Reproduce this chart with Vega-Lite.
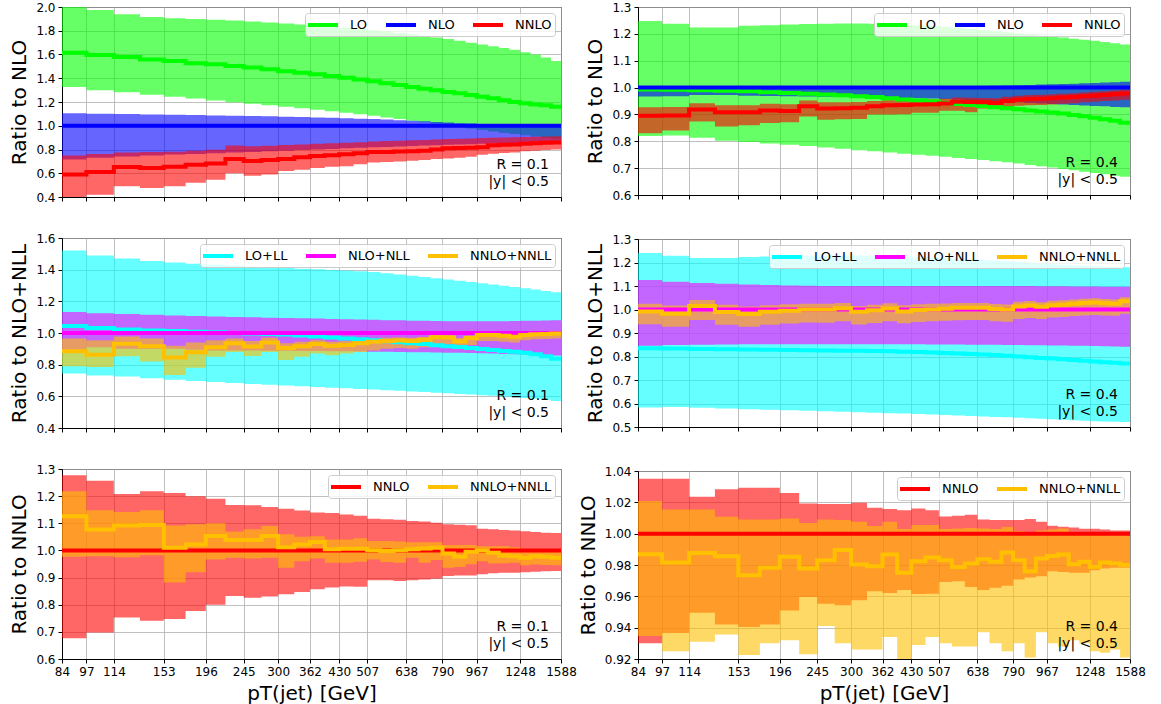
{
"$schema": "https://vega.github.io/schema/vega-lite/v6.json",
"padding": {"left": 9, "top": 0, "right": 0, "bottom": 0},
"background": "white",
"datasets": {
"bins": [{"b":0,"x0":84,"x1":97},{"b":1,"x0":97,"x1":114},{"b":2,"x0":114,"x1":133},{"b":3,"x0":133,"x1":153},{"b":4,"x0":153,"x1":174},{"b":5,"x0":174,"x1":196},{"b":6,"x0":196,"x1":220},{"b":7,"x0":220,"x1":245},{"b":8,"x0":245,"x1":272},{"b":9,"x0":272,"x1":300},{"b":10,"x0":300,"x1":330},{"b":11,"x0":330,"x1":362},{"b":12,"x0":362,"x1":395},{"b":13,"x0":395,"x1":430},{"b":14,"x0":430,"x1":468},{"b":15,"x0":468,"x1":507},{"b":16,"x0":507,"x1":548},{"b":17,"x0":548,"x1":592},{"b":18,"x0":592,"x1":638},{"b":19,"x0":638,"x1":686},{"b":20,"x0":686,"x1":737},{"b":21,"x0":737,"x1":790},{"b":22,"x0":790,"x1":846},{"b":23,"x0":846,"x1":905},{"b":24,"x0":905,"x1":967},{"b":25,"x0":967,"x1":1032},{"b":26,"x0":1032,"x1":1101},{"b":27,"x0":1101,"x1":1172},{"b":28,"x0":1172,"x1":1248},{"b":29,"x0":1248,"x1":1327},{"b":30,"x0":1327,"x1":1410},{"b":31,"x0":1410,"x1":1497},{"b":32,"x0":1497,"x1":1588}],
"d": [
{"p":"TL","s":"LO","b":0,"c":1.615,"lo":1.326,"hi":2.0},
{"p":"TL","s":"LO","b":1,"c":1.596,"lo":1.3,"hi":1.975},
{"p":"TL","s":"LO","b":2,"c":1.579,"lo":1.282,"hi":1.94},
{"p":"TL","s":"LO","b":3,"c":1.557,"lo":1.262,"hi":1.915},
{"p":"TL","s":"LO","b":4,"c":1.545,"lo":1.245,"hi":1.905},
{"p":"TL","s":"LO","b":5,"c":1.526,"lo":1.23,"hi":1.9},
{"p":"TL","s":"LO","b":6,"c":1.517,"lo":1.213,"hi":1.893},
{"p":"TL","s":"LO","b":7,"c":1.503,"lo":1.198,"hi":1.886},
{"p":"TL","s":"LO","b":8,"c":1.49,"lo":1.185,"hi":1.878},
{"p":"TL","s":"LO","b":9,"c":1.475,"lo":1.172,"hi":1.87},
{"p":"TL","s":"LO","b":10,"c":1.46,"lo":1.16,"hi":1.862},
{"p":"TL","s":"LO","b":11,"c":1.447,"lo":1.148,"hi":1.853},
{"p":"TL","s":"LO","b":12,"c":1.433,"lo":1.135,"hi":1.845},
{"p":"TL","s":"LO","b":13,"c":1.419,"lo":1.122,"hi":1.835},
{"p":"TL","s":"LO","b":14,"c":1.405,"lo":1.11,"hi":1.825},
{"p":"TL","s":"LO","b":15,"c":1.39,"lo":1.097,"hi":1.815},
{"p":"TL","s":"LO","b":16,"c":1.374,"lo":1.084,"hi":1.805},
{"p":"TL","s":"LO","b":17,"c":1.357,"lo":1.07,"hi":1.793},
{"p":"TL","s":"LO","b":18,"c":1.343,"lo":1.057,"hi":1.782},
{"p":"TL","s":"LO","b":19,"c":1.326,"lo":1.043,"hi":1.77},
{"p":"TL","s":"LO","b":20,"c":1.312,"lo":1.03,"hi":1.757},
{"p":"TL","s":"LO","b":21,"c":1.298,"lo":1.017,"hi":1.743},
{"p":"TL","s":"LO","b":22,"c":1.284,"lo":1.003,"hi":1.73},
{"p":"TL","s":"LO","b":23,"c":1.273,"lo":0.99,"hi":1.715},
{"p":"TL","s":"LO","b":24,"c":1.259,"lo":0.977,"hi":1.7},
{"p":"TL","s":"LO","b":25,"c":1.245,"lo":0.964,"hi":1.685},
{"p":"TL","s":"LO","b":26,"c":1.231,"lo":0.951,"hi":1.67},
{"p":"TL","s":"LO","b":27,"c":1.214,"lo":0.94,"hi":1.655},
{"p":"TL","s":"LO","b":28,"c":1.2,"lo":0.93,"hi":1.64},
{"p":"TL","s":"LO","b":29,"c":1.189,"lo":0.92,"hi":1.62},
{"p":"TL","s":"LO","b":30,"c":1.18,"lo":0.91,"hi":1.6},
{"p":"TL","s":"LO","b":31,"c":1.172,"lo":0.9,"hi":1.575},
{"p":"TL","s":"LO","b":32,"c":1.161,"lo":0.89,"hi":1.545},
{"p":"TL","s":"NLO","b":0,"c":1,"lo":0.716,"hi":1.105},
{"p":"TL","s":"NLO","b":1,"c":1,"lo":0.73,"hi":1.102},
{"p":"TL","s":"NLO","b":2,"c":1,"lo":0.742,"hi":1.098},
{"p":"TL","s":"NLO","b":3,"c":1,"lo":0.75,"hi":1.095},
{"p":"TL","s":"NLO","b":4,"c":1,"lo":0.757,"hi":1.092},
{"p":"TL","s":"NLO","b":5,"c":1,"lo":0.763,"hi":1.09},
{"p":"TL","s":"NLO","b":6,"c":1,"lo":0.769,"hi":1.087},
{"p":"TL","s":"NLO","b":7,"c":1,"lo":0.775,"hi":1.085},
{"p":"TL","s":"NLO","b":8,"c":1,"lo":0.78,"hi":1.082},
{"p":"TL","s":"NLO","b":9,"c":1,"lo":0.785,"hi":1.079},
{"p":"TL","s":"NLO","b":10,"c":1,"lo":0.79,"hi":1.076},
{"p":"TL","s":"NLO","b":11,"c":1,"lo":0.795,"hi":1.073},
{"p":"TL","s":"NLO","b":12,"c":1,"lo":0.8,"hi":1.07},
{"p":"TL","s":"NLO","b":13,"c":1,"lo":0.805,"hi":1.067},
{"p":"TL","s":"NLO","b":14,"c":1,"lo":0.81,"hi":1.064},
{"p":"TL","s":"NLO","b":15,"c":1,"lo":0.814,"hi":1.06},
{"p":"TL","s":"NLO","b":16,"c":1,"lo":0.818,"hi":1.056},
{"p":"TL","s":"NLO","b":17,"c":1,"lo":0.822,"hi":1.052},
{"p":"TL","s":"NLO","b":18,"c":1,"lo":0.826,"hi":1.047},
{"p":"TL","s":"NLO","b":19,"c":1,"lo":0.83,"hi":1.042},
{"p":"TL","s":"NLO","b":20,"c":1,"lo":0.833,"hi":1.037},
{"p":"TL","s":"NLO","b":21,"c":1,"lo":0.836,"hi":1.032},
{"p":"TL","s":"NLO","b":22,"c":1,"lo":0.839,"hi":1.027},
{"p":"TL","s":"NLO","b":23,"c":1,"lo":0.842,"hi":1.022},
{"p":"TL","s":"NLO","b":24,"c":1,"lo":0.845,"hi":1.018},
{"p":"TL","s":"NLO","b":25,"c":1,"lo":0.848,"hi":1.014},
{"p":"TL","s":"NLO","b":26,"c":1,"lo":0.85,"hi":1.011},
{"p":"TL","s":"NLO","b":27,"c":1,"lo":0.853,"hi":1.008},
{"p":"TL","s":"NLO","b":28,"c":1,"lo":0.855,"hi":1.006},
{"p":"TL","s":"NLO","b":29,"c":1,"lo":0.857,"hi":1.004},
{"p":"TL","s":"NLO","b":30,"c":1,"lo":0.86,"hi":1.003},
{"p":"TL","s":"NLO","b":31,"c":1,"lo":0.862,"hi":1.002},
{"p":"TL","s":"NLO","b":32,"c":1,"lo":0.864,"hi":1.001},
{"p":"TL","s":"NNLO","b":0,"c":0.59,"lo":0.4,"hi":0.75},
{"p":"TL","s":"NNLO","b":1,"c":0.61,"lo":0.42,"hi":0.762},
{"p":"TL","s":"NNLO","b":2,"c":0.652,"lo":0.49,"hi":0.775},
{"p":"TL","s":"NNLO","b":3,"c":0.645,"lo":0.475,"hi":0.778},
{"p":"TL","s":"NNLO","b":4,"c":0.655,"lo":0.49,"hi":0.782},
{"p":"TL","s":"NNLO","b":5,"c":0.672,"lo":0.52,"hi":0.79},
{"p":"TL","s":"NNLO","b":6,"c":0.683,"lo":0.545,"hi":0.798},
{"p":"TL","s":"NNLO","b":7,"c":0.72,"lo":0.6,"hi":0.833},
{"p":"TL","s":"NNLO","b":8,"c":0.703,"lo":0.578,"hi":0.828},
{"p":"TL","s":"NNLO","b":9,"c":0.712,"lo":0.59,"hi":0.832},
{"p":"TL","s":"NNLO","b":10,"c":0.72,"lo":0.62,"hi":0.838},
{"p":"TL","s":"NNLO","b":11,"c":0.735,"lo":0.63,"hi":0.842},
{"p":"TL","s":"NNLO","b":12,"c":0.745,"lo":0.645,"hi":0.848},
{"p":"TL","s":"NNLO","b":13,"c":0.752,"lo":0.655,"hi":0.852},
{"p":"TL","s":"NNLO","b":14,"c":0.76,"lo":0.66,"hi":0.857},
{"p":"TL","s":"NNLO","b":15,"c":0.768,"lo":0.675,"hi":0.862},
{"p":"TL","s":"NNLO","b":16,"c":0.778,"lo":0.69,"hi":0.868},
{"p":"TL","s":"NNLO","b":17,"c":0.78,"lo":0.695,"hi":0.871},
{"p":"TL","s":"NNLO","b":18,"c":0.783,"lo":0.7,"hi":0.874},
{"p":"TL","s":"NNLO","b":19,"c":0.785,"lo":0.705,"hi":0.877},
{"p":"TL","s":"NNLO","b":20,"c":0.79,"lo":0.712,"hi":0.88},
{"p":"TL","s":"NNLO","b":21,"c":0.8,"lo":0.72,"hi":0.885},
{"p":"TL","s":"NNLO","b":22,"c":0.81,"lo":0.725,"hi":0.888},
{"p":"TL","s":"NNLO","b":23,"c":0.812,"lo":0.73,"hi":0.89},
{"p":"TL","s":"NNLO","b":24,"c":0.815,"lo":0.74,"hi":0.893},
{"p":"TL","s":"NNLO","b":25,"c":0.82,"lo":0.755,"hi":0.896},
{"p":"TL","s":"NNLO","b":26,"c":0.835,"lo":0.765,"hi":0.9},
{"p":"TL","s":"NNLO","b":27,"c":0.84,"lo":0.77,"hi":0.902},
{"p":"TL","s":"NNLO","b":28,"c":0.842,"lo":0.775,"hi":0.904},
{"p":"TL","s":"NNLO","b":29,"c":0.848,"lo":0.785,"hi":0.906},
{"p":"TL","s":"NNLO","b":30,"c":0.852,"lo":0.79,"hi":0.908},
{"p":"TL","s":"NNLO","b":31,"c":0.856,"lo":0.795,"hi":0.91},
{"p":"TL","s":"NNLO","b":32,"c":0.86,"lo":0.8,"hi":0.912},
{"p":"TR","s":"LO","b":0,"c":0.993,"lo":0.82,"hi":1.248},
{"p":"TR","s":"LO","b":1,"c":0.992,"lo":0.822,"hi":1.238},
{"p":"TR","s":"LO","b":2,"c":0.99,"lo":0.813,"hi":1.224},
{"p":"TR","s":"LO","b":3,"c":0.988,"lo":0.802,"hi":1.224},
{"p":"TR","s":"LO","b":4,"c":0.986,"lo":0.797,"hi":1.23},
{"p":"TR","s":"LO","b":5,"c":0.983,"lo":0.792,"hi":1.232},
{"p":"TR","s":"LO","b":6,"c":0.98,"lo":0.787,"hi":1.235},
{"p":"TR","s":"LO","b":7,"c":0.977,"lo":0.782,"hi":1.237},
{"p":"TR","s":"LO","b":8,"c":0.974,"lo":0.777,"hi":1.238},
{"p":"TR","s":"LO","b":9,"c":0.971,"lo":0.772,"hi":1.239},
{"p":"TR","s":"LO","b":10,"c":0.968,"lo":0.767,"hi":1.239},
{"p":"TR","s":"LO","b":11,"c":0.965,"lo":0.763,"hi":1.238},
{"p":"TR","s":"LO","b":12,"c":0.96,"lo":0.758,"hi":1.236},
{"p":"TR","s":"LO","b":13,"c":0.956,"lo":0.754,"hi":1.234},
{"p":"TR","s":"LO","b":14,"c":0.952,"lo":0.75,"hi":1.232},
{"p":"TR","s":"LO","b":15,"c":0.948,"lo":0.746,"hi":1.229},
{"p":"TR","s":"LO","b":16,"c":0.943,"lo":0.742,"hi":1.226},
{"p":"TR","s":"LO","b":17,"c":0.939,"lo":0.738,"hi":1.222},
{"p":"TR","s":"LO","b":18,"c":0.935,"lo":0.734,"hi":1.218},
{"p":"TR","s":"LO","b":19,"c":0.931,"lo":0.73,"hi":1.214},
{"p":"TR","s":"LO","b":20,"c":0.927,"lo":0.726,"hi":1.21},
{"p":"TR","s":"LO","b":21,"c":0.923,"lo":0.722,"hi":1.206},
{"p":"TR","s":"LO","b":22,"c":0.919,"lo":0.717,"hi":1.202},
{"p":"TR","s":"LO","b":23,"c":0.915,"lo":0.712,"hi":1.198},
{"p":"TR","s":"LO","b":24,"c":0.911,"lo":0.707,"hi":1.194},
{"p":"TR","s":"LO","b":25,"c":0.907,"lo":0.702,"hi":1.19},
{"p":"TR","s":"LO","b":26,"c":0.903,"lo":0.697,"hi":1.186},
{"p":"TR","s":"LO","b":27,"c":0.898,"lo":0.692,"hi":1.182},
{"p":"TR","s":"LO","b":28,"c":0.893,"lo":0.687,"hi":1.178},
{"p":"TR","s":"LO","b":29,"c":0.888,"lo":0.682,"hi":1.174},
{"p":"TR","s":"LO","b":30,"c":0.882,"lo":0.677,"hi":1.17},
{"p":"TR","s":"LO","b":31,"c":0.876,"lo":0.672,"hi":1.165},
{"p":"TR","s":"LO","b":32,"c":0.869,"lo":0.668,"hi":1.16},
{"p":"TR","s":"NLO","b":0,"c":1,"lo":0.967,"hi":1.001},
{"p":"TR","s":"NLO","b":1,"c":1,"lo":0.968,"hi":1.001},
{"p":"TR","s":"NLO","b":2,"c":1,"lo":0.972,"hi":1.001},
{"p":"TR","s":"NLO","b":3,"c":1,"lo":0.972,"hi":1.001},
{"p":"TR","s":"NLO","b":4,"c":1,"lo":0.97,"hi":1.001},
{"p":"TR","s":"NLO","b":5,"c":1,"lo":0.969,"hi":1.001},
{"p":"TR","s":"NLO","b":6,"c":1,"lo":0.968,"hi":1.001},
{"p":"TR","s":"NLO","b":7,"c":1,"lo":0.967,"hi":1.001},
{"p":"TR","s":"NLO","b":8,"c":1,"lo":0.966,"hi":1.001},
{"p":"TR","s":"NLO","b":9,"c":1,"lo":0.965,"hi":1.001},
{"p":"TR","s":"NLO","b":10,"c":1,"lo":0.964,"hi":1.001},
{"p":"TR","s":"NLO","b":11,"c":1,"lo":0.963,"hi":1.001},
{"p":"TR","s":"NLO","b":12,"c":1,"lo":0.962,"hi":1.001},
{"p":"TR","s":"NLO","b":13,"c":1,"lo":0.961,"hi":1.001},
{"p":"TR","s":"NLO","b":14,"c":1,"lo":0.96,"hi":1.001},
{"p":"TR","s":"NLO","b":15,"c":1,"lo":0.959,"hi":1.002},
{"p":"TR","s":"NLO","b":16,"c":1,"lo":0.957,"hi":1.003},
{"p":"TR","s":"NLO","b":17,"c":1,"lo":0.955,"hi":1.004},
{"p":"TR","s":"NLO","b":18,"c":1,"lo":0.953,"hi":1.005},
{"p":"TR","s":"NLO","b":19,"c":1,"lo":0.951,"hi":1.006},
{"p":"TR","s":"NLO","b":20,"c":1,"lo":0.949,"hi":1.007},
{"p":"TR","s":"NLO","b":21,"c":1,"lo":0.947,"hi":1.008},
{"p":"TR","s":"NLO","b":22,"c":1,"lo":0.945,"hi":1.009},
{"p":"TR","s":"NLO","b":23,"c":1,"lo":0.943,"hi":1.01},
{"p":"TR","s":"NLO","b":24,"c":1,"lo":0.941,"hi":1.011},
{"p":"TR","s":"NLO","b":25,"c":1,"lo":0.939,"hi":1.012},
{"p":"TR","s":"NLO","b":26,"c":1,"lo":0.937,"hi":1.013},
{"p":"TR","s":"NLO","b":27,"c":1,"lo":0.935,"hi":1.014},
{"p":"TR","s":"NLO","b":28,"c":1,"lo":0.933,"hi":1.016},
{"p":"TR","s":"NLO","b":29,"c":1,"lo":0.931,"hi":1.017},
{"p":"TR","s":"NLO","b":30,"c":1,"lo":0.93,"hi":1.019},
{"p":"TR","s":"NLO","b":31,"c":1,"lo":0.928,"hi":1.02},
{"p":"TR","s":"NLO","b":32,"c":1,"lo":0.927,"hi":1.022},
{"p":"TR","s":"NNLO","b":0,"c":0.895,"lo":0.83,"hi":0.927},
{"p":"TR","s":"NNLO","b":1,"c":0.896,"lo":0.84,"hi":0.928},
{"p":"TR","s":"NNLO","b":2,"c":0.918,"lo":0.874,"hi":0.942},
{"p":"TR","s":"NNLO","b":3,"c":0.908,"lo":0.855,"hi":0.934},
{"p":"TR","s":"NNLO","b":4,"c":0.908,"lo":0.86,"hi":0.934},
{"p":"TR","s":"NNLO","b":5,"c":0.915,"lo":0.868,"hi":0.94},
{"p":"TR","s":"NNLO","b":6,"c":0.913,"lo":0.871,"hi":0.938},
{"p":"TR","s":"NNLO","b":7,"c":0.93,"lo":0.892,"hi":0.952},
{"p":"TR","s":"NNLO","b":8,"c":0.922,"lo":0.88,"hi":0.945},
{"p":"TR","s":"NNLO","b":9,"c":0.923,"lo":0.882,"hi":0.945},
{"p":"TR","s":"NNLO","b":10,"c":0.925,"lo":0.883,"hi":0.946},
{"p":"TR","s":"NNLO","b":11,"c":0.93,"lo":0.9,"hi":0.95},
{"p":"TR","s":"NNLO","b":12,"c":0.934,"lo":0.9,"hi":0.953},
{"p":"TR","s":"NNLO","b":13,"c":0.935,"lo":0.901,"hi":0.954},
{"p":"TR","s":"NNLO","b":14,"c":0.937,"lo":0.906,"hi":0.955},
{"p":"TR","s":"NNLO","b":15,"c":0.938,"lo":0.906,"hi":0.956},
{"p":"TR","s":"NNLO","b":16,"c":0.941,"lo":0.914,"hi":0.958},
{"p":"TR","s":"NNLO","b":17,"c":0.947,"lo":0.914,"hi":0.963},
{"p":"TR","s":"NNLO","b":18,"c":0.946,"lo":0.908,"hi":0.962},
{"p":"TR","s":"NNLO","b":19,"c":0.945,"lo":0.922,"hi":0.961},
{"p":"TR","s":"NNLO","b":20,"c":0.943,"lo":0.92,"hi":0.96},
{"p":"TR","s":"NNLO","b":21,"c":0.95,"lo":0.928,"hi":0.966},
{"p":"TR","s":"NNLO","b":22,"c":0.955,"lo":0.932,"hi":0.97},
{"p":"TR","s":"NNLO","b":23,"c":0.957,"lo":0.934,"hi":0.972},
{"p":"TR","s":"NNLO","b":24,"c":0.958,"lo":0.935,"hi":0.973},
{"p":"TR","s":"NNLO","b":25,"c":0.96,"lo":0.937,"hi":0.975},
{"p":"TR","s":"NNLO","b":26,"c":0.963,"lo":0.94,"hi":0.977},
{"p":"TR","s":"NNLO","b":27,"c":0.965,"lo":0.942,"hi":0.979},
{"p":"TR","s":"NNLO","b":28,"c":0.968,"lo":0.945,"hi":0.982},
{"p":"TR","s":"NNLO","b":29,"c":0.97,"lo":0.947,"hi":0.984},
{"p":"TR","s":"NNLO","b":30,"c":0.972,"lo":0.95,"hi":0.986},
{"p":"TR","s":"NNLO","b":31,"c":0.975,"lo":0.952,"hi":0.989},
{"p":"TR","s":"NNLO","b":32,"c":0.978,"lo":0.955,"hi":0.992},
{"p":"ML","s":"LO+LL","b":0,"c":1.045,"lo":0.744,"hi":1.521},
{"p":"ML","s":"LO+LL","b":1,"c":1.032,"lo":0.732,"hi":1.49},
{"p":"ML","s":"LO+LL","b":2,"c":1.022,"lo":0.725,"hi":1.47},
{"p":"ML","s":"LO+LL","b":3,"c":1.016,"lo":0.715,"hi":1.455},
{"p":"ML","s":"LO+LL","b":4,"c":1.012,"lo":0.705,"hi":1.445},
{"p":"ML","s":"LO+LL","b":5,"c":1.008,"lo":0.697,"hi":1.438},
{"p":"ML","s":"LO+LL","b":6,"c":1.004,"lo":0.69,"hi":1.432},
{"p":"ML","s":"LO+LL","b":7,"c":1.0,"lo":0.684,"hi":1.426},
{"p":"ML","s":"LO+LL","b":8,"c":0.997,"lo":0.678,"hi":1.42},
{"p":"ML","s":"LO+LL","b":9,"c":0.994,"lo":0.673,"hi":1.415},
{"p":"ML","s":"LO+LL","b":10,"c":0.99,"lo":0.668,"hi":1.41},
{"p":"ML","s":"LO+LL","b":11,"c":0.985,"lo":0.663,"hi":1.406},
{"p":"ML","s":"LO+LL","b":12,"c":0.978,"lo":0.659,"hi":1.402},
{"p":"ML","s":"LO+LL","b":13,"c":0.972,"lo":0.655,"hi":1.398},
{"p":"ML","s":"LO+LL","b":14,"c":0.965,"lo":0.651,"hi":1.394},
{"p":"ML","s":"LO+LL","b":15,"c":0.96,"lo":0.647,"hi":1.39},
{"p":"ML","s":"LO+LL","b":16,"c":0.955,"lo":0.643,"hi":1.385},
{"p":"ML","s":"LO+LL","b":17,"c":0.948,"lo":0.639,"hi":1.378},
{"p":"ML","s":"LO+LL","b":18,"c":0.942,"lo":0.635,"hi":1.37},
{"p":"ML","s":"LO+LL","b":19,"c":0.936,"lo":0.631,"hi":1.362},
{"p":"ML","s":"LO+LL","b":20,"c":0.93,"lo":0.627,"hi":1.354},
{"p":"ML","s":"LO+LL","b":21,"c":0.923,"lo":0.623,"hi":1.346},
{"p":"ML","s":"LO+LL","b":22,"c":0.917,"lo":0.619,"hi":1.338},
{"p":"ML","s":"LO+LL","b":23,"c":0.911,"lo":0.615,"hi":1.33},
{"p":"ML","s":"LO+LL","b":24,"c":0.905,"lo":0.611,"hi":1.322},
{"p":"ML","s":"LO+LL","b":25,"c":0.899,"lo":0.607,"hi":1.314},
{"p":"ML","s":"LO+LL","b":26,"c":0.893,"lo":0.603,"hi":1.306},
{"p":"ML","s":"LO+LL","b":27,"c":0.887,"lo":0.599,"hi":1.298},
{"p":"ML","s":"LO+LL","b":28,"c":0.881,"lo":0.595,"hi":1.29},
{"p":"ML","s":"LO+LL","b":29,"c":0.875,"lo":0.59,"hi":1.282},
{"p":"ML","s":"LO+LL","b":30,"c":0.866,"lo":0.585,"hi":1.274},
{"p":"ML","s":"LO+LL","b":31,"c":0.853,"lo":0.578,"hi":1.266},
{"p":"ML","s":"LO+LL","b":32,"c":0.838,"lo":0.57,"hi":1.258},
{"p":"ML","s":"NLO+NLL","b":0,"c":1,"lo":0.895,"hi":1.133},
{"p":"ML","s":"NLO+NLL","b":1,"c":1,"lo":0.91,"hi":1.124},
{"p":"ML","s":"NLO+NLL","b":2,"c":1,"lo":0.9,"hi":1.12},
{"p":"ML","s":"NLO+NLL","b":3,"c":1,"lo":0.9,"hi":1.115},
{"p":"ML","s":"NLO+NLL","b":4,"c":1,"lo":0.9,"hi":1.11},
{"p":"ML","s":"NLO+NLL","b":5,"c":1,"lo":0.895,"hi":1.107},
{"p":"ML","s":"NLO+NLL","b":6,"c":1,"lo":0.89,"hi":1.104},
{"p":"ML","s":"NLO+NLL","b":7,"c":1,"lo":0.89,"hi":1.101},
{"p":"ML","s":"NLO+NLL","b":8,"c":1,"lo":0.89,"hi":1.099},
{"p":"ML","s":"NLO+NLL","b":9,"c":1,"lo":0.888,"hi":1.097},
{"p":"ML","s":"NLO+NLL","b":10,"c":1,"lo":0.888,"hi":1.095},
{"p":"ML","s":"NLO+NLL","b":11,"c":1,"lo":0.887,"hi":1.093},
{"p":"ML","s":"NLO+NLL","b":12,"c":1,"lo":0.886,"hi":1.091},
{"p":"ML","s":"NLO+NLL","b":13,"c":1,"lo":0.885,"hi":1.089},
{"p":"ML","s":"NLO+NLL","b":14,"c":1,"lo":0.884,"hi":1.087},
{"p":"ML","s":"NLO+NLL","b":15,"c":1,"lo":0.883,"hi":1.085},
{"p":"ML","s":"NLO+NLL","b":16,"c":1,"lo":0.882,"hi":1.083},
{"p":"ML","s":"NLO+NLL","b":17,"c":1,"lo":0.881,"hi":1.081},
{"p":"ML","s":"NLO+NLL","b":18,"c":1,"lo":0.88,"hi":1.08},
{"p":"ML","s":"NLO+NLL","b":19,"c":1,"lo":0.879,"hi":1.078},
{"p":"ML","s":"NLO+NLL","b":20,"c":1,"lo":0.878,"hi":1.077},
{"p":"ML","s":"NLO+NLL","b":21,"c":1,"lo":0.877,"hi":1.076},
{"p":"ML","s":"NLO+NLL","b":22,"c":1,"lo":0.876,"hi":1.075},
{"p":"ML","s":"NLO+NLL","b":23,"c":1,"lo":0.875,"hi":1.074},
{"p":"ML","s":"NLO+NLL","b":24,"c":1,"lo":0.874,"hi":1.074},
{"p":"ML","s":"NLO+NLL","b":25,"c":1,"lo":0.872,"hi":1.074},
{"p":"ML","s":"NLO+NLL","b":26,"c":1,"lo":0.87,"hi":1.075},
{"p":"ML","s":"NLO+NLL","b":27,"c":1,"lo":0.868,"hi":1.075},
{"p":"ML","s":"NLO+NLL","b":28,"c":1,"lo":0.866,"hi":1.076},
{"p":"ML","s":"NLO+NLL","b":29,"c":1,"lo":0.864,"hi":1.077},
{"p":"ML","s":"NLO+NLL","b":30,"c":1,"lo":0.862,"hi":1.078},
{"p":"ML","s":"NLO+NLL","b":31,"c":1,"lo":0.86,"hi":1.079},
{"p":"ML","s":"NLO+NLL","b":32,"c":1,"lo":0.858,"hi":1.08},
{"p":"ML","s":"NNLO+NNLL","b":0,"c":0.884,"lo":0.79,"hi":0.965},
{"p":"ML","s":"NNLO+NNLL","b":1,"c":0.862,"lo":0.785,"hi":0.955},
{"p":"ML","s":"NNLO+NNLL","b":2,"c":0.932,"lo":0.853,"hi":0.978},
{"p":"ML","s":"NNLO+NNLL","b":3,"c":0.916,"lo":0.82,"hi":0.965},
{"p":"ML","s":"NNLO+NNLL","b":4,"c":0.845,"lo":0.735,"hi":0.92},
{"p":"ML","s":"NNLO+NNLL","b":5,"c":0.878,"lo":0.78,"hi":0.94},
{"p":"ML","s":"NNLO+NNLL","b":6,"c":0.91,"lo":0.85,"hi":0.955},
{"p":"ML","s":"NNLO+NNLL","b":7,"c":0.935,"lo":0.88,"hi":0.965},
{"p":"ML","s":"NNLO+NNLL","b":8,"c":0.915,"lo":0.855,"hi":0.95},
{"p":"ML","s":"NNLO+NNLL","b":9,"c":0.94,"lo":0.88,"hi":0.97},
{"p":"ML","s":"NNLO+NNLL","b":10,"c":0.905,"lo":0.83,"hi":0.935},
{"p":"ML","s":"NNLO+NNLL","b":11,"c":0.916,"lo":0.85,"hi":0.945},
{"p":"ML","s":"NNLO+NNLL","b":12,"c":0.93,"lo":0.87,"hi":0.955},
{"p":"ML","s":"NNLO+NNLL","b":13,"c":0.92,"lo":0.86,"hi":0.945},
{"p":"ML","s":"NNLO+NNLL","b":14,"c":0.925,"lo":0.87,"hi":0.95},
{"p":"ML","s":"NNLO+NNLL","b":15,"c":0.935,"lo":0.88,"hi":0.96},
{"p":"ML","s":"NNLO+NNLL","b":16,"c":0.945,"lo":0.89,"hi":0.965},
{"p":"ML","s":"NNLO+NNLL","b":17,"c":0.95,"lo":0.9,"hi":0.97},
{"p":"ML","s":"NNLO+NNLL","b":18,"c":0.952,"lo":0.905,"hi":0.972},
{"p":"ML","s":"NNLO+NNLL","b":19,"c":0.95,"lo":0.9,"hi":0.97},
{"p":"ML","s":"NNLO+NNLL","b":20,"c":0.957,"lo":0.91,"hi":0.975},
{"p":"ML","s":"NNLO+NNLL","b":21,"c":0.973,"lo":0.93,"hi":0.99},
{"p":"ML","s":"NNLO+NNLL","b":22,"c":0.972,"lo":0.93,"hi":0.99},
{"p":"ML","s":"NNLO+NNLL","b":23,"c":0.947,"lo":0.9,"hi":0.968},
{"p":"ML","s":"NNLO+NNLL","b":24,"c":0.968,"lo":0.925,"hi":0.985},
{"p":"ML","s":"NNLO+NNLL","b":25,"c":0.988,"lo":0.95,"hi":1.003},
{"p":"ML","s":"NNLO+NNLL","b":26,"c":0.988,"lo":0.95,"hi":1.003},
{"p":"ML","s":"NNLO+NNLL","b":27,"c":0.983,"lo":0.945,"hi":0.998},
{"p":"ML","s":"NNLO+NNLL","b":28,"c":0.977,"lo":0.94,"hi":0.992},
{"p":"ML","s":"NNLO+NNLL","b":29,"c":0.988,"lo":0.955,"hi":1.002},
{"p":"ML","s":"NNLO+NNLL","b":30,"c":0.992,"lo":0.96,"hi":1.006},
{"p":"ML","s":"NNLO+NNLL","b":31,"c":0.993,"lo":0.962,"hi":1.007},
{"p":"ML","s":"NNLO+NNLL","b":32,"c":0.997,"lo":0.965,"hi":1.01},
{"p":"MR","s":"LO+LL","b":0,"c":0.835,"lo":0.583,"hi":1.24},
{"p":"MR","s":"LO+LL","b":1,"c":0.834,"lo":0.585,"hi":1.229},
{"p":"MR","s":"LO+LL","b":2,"c":0.832,"lo":0.582,"hi":1.219},
{"p":"MR","s":"LO+LL","b":3,"c":0.831,"lo":0.579,"hi":1.219},
{"p":"MR","s":"LO+LL","b":4,"c":0.83,"lo":0.576,"hi":1.223},
{"p":"MR","s":"LO+LL","b":5,"c":0.829,"lo":0.573,"hi":1.226},
{"p":"MR","s":"LO+LL","b":6,"c":0.828,"lo":0.571,"hi":1.228},
{"p":"MR","s":"LO+LL","b":7,"c":0.827,"lo":0.569,"hi":1.229},
{"p":"MR","s":"LO+LL","b":8,"c":0.826,"lo":0.567,"hi":1.23},
{"p":"MR","s":"LO+LL","b":9,"c":0.825,"lo":0.565,"hi":1.23},
{"p":"MR","s":"LO+LL","b":10,"c":0.824,"lo":0.563,"hi":1.23},
{"p":"MR","s":"LO+LL","b":11,"c":0.823,"lo":0.561,"hi":1.229},
{"p":"MR","s":"LO+LL","b":12,"c":0.822,"lo":0.559,"hi":1.228},
{"p":"MR","s":"LO+LL","b":13,"c":0.82,"lo":0.557,"hi":1.226},
{"p":"MR","s":"LO+LL","b":14,"c":0.819,"lo":0.555,"hi":1.224},
{"p":"MR","s":"LO+LL","b":15,"c":0.817,"lo":0.553,"hi":1.222},
{"p":"MR","s":"LO+LL","b":16,"c":0.815,"lo":0.551,"hi":1.22},
{"p":"MR","s":"LO+LL","b":17,"c":0.813,"lo":0.549,"hi":1.217},
{"p":"MR","s":"LO+LL","b":18,"c":0.811,"lo":0.547,"hi":1.214},
{"p":"MR","s":"LO+LL","b":19,"c":0.809,"lo":0.545,"hi":1.211},
{"p":"MR","s":"LO+LL","b":20,"c":0.806,"lo":0.543,"hi":1.208},
{"p":"MR","s":"LO+LL","b":21,"c":0.803,"lo":0.541,"hi":1.205},
{"p":"MR","s":"LO+LL","b":22,"c":0.8,"lo":0.539,"hi":1.202},
{"p":"MR","s":"LO+LL","b":23,"c":0.797,"lo":0.537,"hi":1.199},
{"p":"MR","s":"LO+LL","b":24,"c":0.794,"lo":0.535,"hi":1.196},
{"p":"MR","s":"LO+LL","b":25,"c":0.791,"lo":0.533,"hi":1.193},
{"p":"MR","s":"LO+LL","b":26,"c":0.788,"lo":0.531,"hi":1.19},
{"p":"MR","s":"LO+LL","b":27,"c":0.785,"lo":0.529,"hi":1.188},
{"p":"MR","s":"LO+LL","b":28,"c":0.782,"lo":0.527,"hi":1.186},
{"p":"MR","s":"LO+LL","b":29,"c":0.779,"lo":0.525,"hi":1.184},
{"p":"MR","s":"LO+LL","b":30,"c":0.776,"lo":0.523,"hi":1.182},
{"p":"MR","s":"LO+LL","b":31,"c":0.773,"lo":0.522,"hi":1.181},
{"p":"MR","s":"LO+LL","b":32,"c":0.77,"lo":0.521,"hi":1.18},
{"p":"MR","s":"NLO+NLL","b":0,"c":1,"lo":0.846,"hi":1.126},
{"p":"MR","s":"NLO+NLL","b":1,"c":1,"lo":0.849,"hi":1.118},
{"p":"MR","s":"NLO+NLL","b":2,"c":1,"lo":0.85,"hi":1.113},
{"p":"MR","s":"NLO+NLL","b":3,"c":1,"lo":0.851,"hi":1.11},
{"p":"MR","s":"NLO+NLL","b":4,"c":1,"lo":0.852,"hi":1.106},
{"p":"MR","s":"NLO+NLL","b":5,"c":1,"lo":0.852,"hi":1.104},
{"p":"MR","s":"NLO+NLL","b":6,"c":1,"lo":0.852,"hi":1.102},
{"p":"MR","s":"NLO+NLL","b":7,"c":1,"lo":0.852,"hi":1.101},
{"p":"MR","s":"NLO+NLL","b":8,"c":1,"lo":0.852,"hi":1.1},
{"p":"MR","s":"NLO+NLL","b":9,"c":1,"lo":0.852,"hi":1.1},
{"p":"MR","s":"NLO+NLL","b":10,"c":1,"lo":0.852,"hi":1.1},
{"p":"MR","s":"NLO+NLL","b":11,"c":1,"lo":0.852,"hi":1.1},
{"p":"MR","s":"NLO+NLL","b":12,"c":1,"lo":0.852,"hi":1.1},
{"p":"MR","s":"NLO+NLL","b":13,"c":1,"lo":0.852,"hi":1.1},
{"p":"MR","s":"NLO+NLL","b":14,"c":1,"lo":0.852,"hi":1.1},
{"p":"MR","s":"NLO+NLL","b":15,"c":1,"lo":0.851,"hi":1.1},
{"p":"MR","s":"NLO+NLL","b":16,"c":1,"lo":0.851,"hi":1.1},
{"p":"MR","s":"NLO+NLL","b":17,"c":1,"lo":0.851,"hi":1.1},
{"p":"MR","s":"NLO+NLL","b":18,"c":1,"lo":0.85,"hi":1.1},
{"p":"MR","s":"NLO+NLL","b":19,"c":1,"lo":0.85,"hi":1.1},
{"p":"MR","s":"NLO+NLL","b":20,"c":1,"lo":0.85,"hi":1.1},
{"p":"MR","s":"NLO+NLL","b":21,"c":1,"lo":0.849,"hi":1.1},
{"p":"MR","s":"NLO+NLL","b":22,"c":1,"lo":0.849,"hi":1.1},
{"p":"MR","s":"NLO+NLL","b":23,"c":1,"lo":0.848,"hi":1.1},
{"p":"MR","s":"NLO+NLL","b":24,"c":1,"lo":0.848,"hi":1.099},
{"p":"MR","s":"NLO+NLL","b":25,"c":1,"lo":0.847,"hi":1.099},
{"p":"MR","s":"NLO+NLL","b":26,"c":1,"lo":0.847,"hi":1.099},
{"p":"MR","s":"NLO+NLL","b":27,"c":1,"lo":0.846,"hi":1.098},
{"p":"MR","s":"NLO+NLL","b":28,"c":1,"lo":0.846,"hi":1.098},
{"p":"MR","s":"NLO+NLL","b":29,"c":1,"lo":0.845,"hi":1.098},
{"p":"MR","s":"NLO+NLL","b":30,"c":1,"lo":0.844,"hi":1.097},
{"p":"MR","s":"NLO+NLL","b":31,"c":1,"lo":0.843,"hi":1.097},
{"p":"MR","s":"NLO+NLL","b":32,"c":1,"lo":0.842,"hi":1.097},
{"p":"MR","s":"NNLO+NNLL","b":0,"c":0.991,"lo":0.937,"hi":1.024},
{"p":"MR","s":"NNLO+NNLL","b":1,"c":0.982,"lo":0.927,"hi":1.017},
{"p":"MR","s":"NNLO+NNLL","b":2,"c":1.015,"lo":0.955,"hi":1.04},
{"p":"MR","s":"NNLO+NNLL","b":3,"c":0.989,"lo":0.935,"hi":1.02},
{"p":"MR","s":"NNLO+NNLL","b":4,"c":0.981,"lo":0.927,"hi":1.013},
{"p":"MR","s":"NNLO+NNLL","b":5,"c":0.99,"lo":0.935,"hi":1.018},
{"p":"MR","s":"NNLO+NNLL","b":6,"c":0.995,"lo":0.94,"hi":1.022},
{"p":"MR","s":"NNLO+NNLL","b":7,"c":1.0,"lo":0.945,"hi":1.025},
{"p":"MR","s":"NNLO+NNLL","b":8,"c":1.0,"lo":0.944,"hi":1.024},
{"p":"MR","s":"NNLO+NNLL","b":9,"c":1.005,"lo":0.95,"hi":1.028},
{"p":"MR","s":"NNLO+NNLL","b":10,"c":0.99,"lo":0.936,"hi":1.015},
{"p":"MR","s":"NNLO+NNLL","b":11,"c":0.997,"lo":0.943,"hi":1.02},
{"p":"MR","s":"NNLO+NNLL","b":12,"c":1.004,"lo":0.95,"hi":1.027},
{"p":"MR","s":"NNLO+NNLL","b":13,"c":0.992,"lo":0.942,"hi":1.018},
{"p":"MR","s":"NNLO+NNLL","b":14,"c":0.998,"lo":0.947,"hi":1.022},
{"p":"MR","s":"NNLO+NNLL","b":15,"c":1.0,"lo":0.95,"hi":1.024},
{"p":"MR","s":"NNLO+NNLL","b":16,"c":1.003,"lo":0.952,"hi":1.026},
{"p":"MR","s":"NNLO+NNLL","b":17,"c":1.007,"lo":0.954,"hi":1.028},
{"p":"MR","s":"NNLO+NNLL","b":18,"c":1.007,"lo":0.955,"hi":1.028},
{"p":"MR","s":"NNLO+NNLL","b":19,"c":1.007,"lo":0.955,"hi":1.028},
{"p":"MR","s":"NNLO+NNLL","b":20,"c":1.002,"lo":0.95,"hi":1.023},
{"p":"MR","s":"NNLO+NNLL","b":21,"c":1.0,"lo":0.948,"hi":1.021},
{"p":"MR","s":"NNLO+NNLL","b":22,"c":1.013,"lo":0.96,"hi":1.033},
{"p":"MR","s":"NNLO+NNLL","b":23,"c":1.017,"lo":0.964,"hi":1.036},
{"p":"MR","s":"NNLO+NNLL","b":24,"c":1.012,"lo":0.96,"hi":1.031},
{"p":"MR","s":"NNLO+NNLL","b":25,"c":1.018,"lo":0.966,"hi":1.037},
{"p":"MR","s":"NNLO+NNLL","b":26,"c":1.02,"lo":0.968,"hi":1.039},
{"p":"MR","s":"NNLO+NNLL","b":27,"c":1.025,"lo":0.972,"hi":1.043},
{"p":"MR","s":"NNLO+NNLL","b":28,"c":1.028,"lo":0.975,"hi":1.046},
{"p":"MR","s":"NNLO+NNLL","b":29,"c":1.03,"lo":0.977,"hi":1.048},
{"p":"MR","s":"NNLO+NNLL","b":30,"c":1.027,"lo":0.975,"hi":1.045},
{"p":"MR","s":"NNLO+NNLL","b":31,"c":1.025,"lo":0.973,"hi":1.043},
{"p":"MR","s":"NNLO+NNLL","b":32,"c":1.035,"lo":0.982,"hi":1.052},
{"p":"BL","s":"NNLO","b":0,"c":1,"lo":0.676,"hi":1.277},
{"p":"BL","s":"NNLO","b":1,"c":1,"lo":0.698,"hi":1.257},
{"p":"BL","s":"NNLO","b":2,"c":1,"lo":0.753,"hi":1.208},
{"p":"BL","s":"NNLO","b":3,"c":1,"lo":0.741,"hi":1.218},
{"p":"BL","s":"NNLO","b":4,"c":1,"lo":0.747,"hi":1.212},
{"p":"BL","s":"NNLO","b":5,"c":1,"lo":0.777,"hi":1.2},
{"p":"BL","s":"NNLO","b":6,"c":1,"lo":0.8,"hi":1.19},
{"p":"BL","s":"NNLO","b":7,"c":1,"lo":0.832,"hi":1.167},
{"p":"BL","s":"NNLO","b":8,"c":1,"lo":0.826,"hi":1.166},
{"p":"BL","s":"NNLO","b":9,"c":1,"lo":0.83,"hi":1.16},
{"p":"BL","s":"NNLO","b":10,"c":1,"lo":0.839,"hi":1.154},
{"p":"BL","s":"NNLO","b":11,"c":1,"lo":0.847,"hi":1.147},
{"p":"BL","s":"NNLO","b":12,"c":1,"lo":0.857,"hi":1.14},
{"p":"BL","s":"NNLO","b":13,"c":1,"lo":0.863,"hi":1.138},
{"p":"BL","s":"NNLO","b":14,"c":1,"lo":0.867,"hi":1.132},
{"p":"BL","s":"NNLO","b":15,"c":1,"lo":0.866,"hi":1.128},
{"p":"BL","s":"NNLO","b":16,"c":1,"lo":0.89,"hi":1.117},
{"p":"BL","s":"NNLO","b":17,"c":1,"lo":0.89,"hi":1.115},
{"p":"BL","s":"NNLO","b":18,"c":1,"lo":0.887,"hi":1.113},
{"p":"BL","s":"NNLO","b":19,"c":1,"lo":0.89,"hi":1.108},
{"p":"BL","s":"NNLO","b":20,"c":1,"lo":0.893,"hi":1.107},
{"p":"BL","s":"NNLO","b":21,"c":1,"lo":0.896,"hi":1.102},
{"p":"BL","s":"NNLO","b":22,"c":1,"lo":0.906,"hi":1.096},
{"p":"BL","s":"NNLO","b":23,"c":1,"lo":0.908,"hi":1.095},
{"p":"BL","s":"NNLO","b":24,"c":1,"lo":0.908,"hi":1.093},
{"p":"BL","s":"NNLO","b":25,"c":1,"lo":0.912,"hi":1.08},
{"p":"BL","s":"NNLO","b":26,"c":1,"lo":0.916,"hi":1.078},
{"p":"BL","s":"NNLO","b":27,"c":1,"lo":0.918,"hi":1.075},
{"p":"BL","s":"NNLO","b":28,"c":1,"lo":0.918,"hi":1.073},
{"p":"BL","s":"NNLO","b":29,"c":1,"lo":0.92,"hi":1.071},
{"p":"BL","s":"NNLO","b":30,"c":1,"lo":0.921,"hi":1.068},
{"p":"BL","s":"NNLO","b":31,"c":1,"lo":0.923,"hi":1.065},
{"p":"BL","s":"NNLO","b":32,"c":1,"lo":0.924,"hi":1.064},
{"p":"BL","s":"NNLO+NNLL","b":0,"c":1.126,"lo":0.977,"hi":1.218},
{"p":"BL","s":"NNLO+NNLL","b":1,"c":1.077,"lo":0.979,"hi":1.148},
{"p":"BL","s":"NNLO+NNLL","b":2,"c":1.092,"lo":0.975,"hi":1.142},
{"p":"BL","s":"NNLO+NNLL","b":3,"c":1.094,"lo":0.982,"hi":1.148},
{"p":"BL","s":"NNLO+NNLL","b":4,"c":1.01,"lo":0.882,"hi":1.092},
{"p":"BL","s":"NNLO+NNLL","b":5,"c":1.022,"lo":0.92,"hi":1.096},
{"p":"BL","s":"NNLO+NNLL","b":6,"c":1.053,"lo":0.967,"hi":1.1},
{"p":"BL","s":"NNLO+NNLL","b":7,"c":1.038,"lo":0.973,"hi":1.07},
{"p":"BL","s":"NNLO+NNLL","b":8,"c":1.038,"lo":0.97,"hi":1.078},
{"p":"BL","s":"NNLO+NNLL","b":9,"c":1.053,"lo":0.973,"hi":1.09},
{"p":"BL","s":"NNLO+NNLL","b":10,"c":1.012,"lo":0.936,"hi":1.06},
{"p":"BL","s":"NNLO+NNLL","b":11,"c":1.022,"lo":0.96,"hi":1.05},
{"p":"BL","s":"NNLO+NNLL","b":12,"c":1.031,"lo":0.97,"hi":1.052},
{"p":"BL","s":"NNLO+NNLL","b":13,"c":1.004,"lo":0.955,"hi":1.04},
{"p":"BL","s":"NNLO+NNLL","b":14,"c":1.006,"lo":0.955,"hi":1.04},
{"p":"BL","s":"NNLO+NNLL","b":15,"c":1.006,"lo":0.958,"hi":1.045},
{"p":"BL","s":"NNLO+NNLL","b":16,"c":1.001,"lo":0.967,"hi":1.035},
{"p":"BL","s":"NNLO+NNLL","b":17,"c":0.998,"lo":0.957,"hi":1.035},
{"p":"BL","s":"NNLO+NNLL","b":18,"c":1.001,"lo":0.955,"hi":1.033},
{"p":"BL","s":"NNLO+NNLL","b":19,"c":1.004,"lo":0.973,"hi":1.03},
{"p":"BL","s":"NNLO+NNLL","b":20,"c":1.007,"lo":0.955,"hi":1.03},
{"p":"BL","s":"NNLO+NNLL","b":21,"c":1.01,"lo":0.965,"hi":1.03},
{"p":"BL","s":"NNLO+NNLL","b":22,"c":0.989,"lo":0.936,"hi":1.02},
{"p":"BL","s":"NNLO+NNLL","b":23,"c":0.977,"lo":0.939,"hi":1.02},
{"p":"BL","s":"NNLO+NNLL","b":24,"c":0.995,"lo":0.949,"hi":1.02},
{"p":"BL","s":"NNLO+NNLL","b":25,"c":1.001,"lo":0.96,"hi":1.015},
{"p":"BL","s":"NNLO+NNLL","b":26,"c":0.991,"lo":0.952,"hi":1.015},
{"p":"BL","s":"NNLO+NNLL","b":27,"c":0.981,"lo":0.953,"hi":1.015},
{"p":"BL","s":"NNLO+NNLL","b":28,"c":0.979,"lo":0.955,"hi":1.012},
{"p":"BL","s":"NNLO+NNLL","b":29,"c":0.973,"lo":0.945,"hi":1.005},
{"p":"BL","s":"NNLO+NNLL","b":30,"c":0.979,"lo":0.948,"hi":1.006},
{"p":"BL","s":"NNLO+NNLL","b":31,"c":0.977,"lo":0.946,"hi":1.005},
{"p":"BL","s":"NNLO+NNLL","b":32,"c":0.973,"lo":0.945,"hi":1.004},
{"p":"BR","s":"NNLO","b":0,"c":1,"lo":0.93,"hi":1.035},
{"p":"BR","s":"NNLO","b":1,"c":1,"lo":0.9366,"hi":1.035},
{"p":"BR","s":"NNLO","b":2,"c":1,"lo":0.9496,"hi":1.0236},
{"p":"BR","s":"NNLO","b":3,"c":1,"lo":0.942,"hi":1.0283},
{"p":"BR","s":"NNLO","b":4,"c":1,"lo":0.9404,"hi":1.0293},
{"p":"BR","s":"NNLO","b":5,"c":1,"lo":0.942,"hi":1.0293},
{"p":"BR","s":"NNLO","b":6,"c":1,"lo":0.951,"hi":1.026},
{"p":"BR","s":"NNLO","b":7,"c":1,"lo":0.9596,"hi":1.0193},
{"p":"BR","s":"NNLO","b":8,"c":1,"lo":0.9553,"hi":1.019},
{"p":"BR","s":"NNLO","b":9,"c":1,"lo":0.9543,"hi":1.019},
{"p":"BR","s":"NNLO","b":10,"c":1,"lo":0.9575,"hi":1.0198},
{"p":"BR","s":"NNLO","b":11,"c":1,"lo":0.9633,"hi":1.0166},
{"p":"BR","s":"NNLO","b":12,"c":1,"lo":0.9622,"hi":1.0157},
{"p":"BR","s":"NNLO","b":13,"c":1,"lo":0.964,"hi":1.015},
{"p":"BR","s":"NNLO","b":14,"c":1,"lo":0.9615,"hi":1.016},
{"p":"BR","s":"NNLO","b":15,"c":1,"lo":0.9617,"hi":1.015},
{"p":"BR","s":"NNLO","b":16,"c":1,"lo":0.9692,"hi":1.011},
{"p":"BR","s":"NNLO","b":17,"c":1,"lo":0.9696,"hi":1.0114},
{"p":"BR","s":"NNLO","b":18,"c":1,"lo":0.966,"hi":1.012},
{"p":"BR","s":"NNLO","b":19,"c":1,"lo":0.964,"hi":1.009},
{"p":"BR","s":"NNLO","b":20,"c":1,"lo":0.9655,"hi":1.0087},
{"p":"BR","s":"NNLO","b":21,"c":1,"lo":0.9668,"hi":1.0087},
{"p":"BR","s":"NNLO","b":22,"c":1,"lo":0.9707,"hi":1.0087},
{"p":"BR","s":"NNLO","b":23,"c":1,"lo":0.972,"hi":1.0093},
{"p":"BR","s":"NNLO","b":24,"c":1,"lo":0.9728,"hi":1.0076},
{"p":"BR","s":"NNLO","b":25,"c":1,"lo":0.976,"hi":1.005},
{"p":"BR","s":"NNLO","b":26,"c":1,"lo":0.9756,"hi":1.0044},
{"p":"BR","s":"NNLO","b":27,"c":1,"lo":0.975,"hi":1.004},
{"p":"BR","s":"NNLO","b":28,"c":1,"lo":0.975,"hi":1.0032},
{"p":"BR","s":"NNLO","b":29,"c":1,"lo":0.9767,"hi":1.0032},
{"p":"BR","s":"NNLO","b":30,"c":1,"lo":0.9777,"hi":1.0026},
{"p":"BR","s":"NNLO","b":31,"c":1,"lo":0.9782,"hi":1.002},
{"p":"BR","s":"NNLO","b":32,"c":1,"lo":0.9782,"hi":1.002},
{"p":"BR","s":"NNLO+NNLL","b":0,"c":0.9869,"lo":0.9347,"hi":1.0208},
{"p":"BR","s":"NNLO+NNLL","b":1,"c":0.9816,"lo":0.925,"hi":1.0155},
{"p":"BR","s":"NNLO+NNLL","b":2,"c":0.9876,"lo":0.931,"hi":1.0155},
{"p":"BR","s":"NNLO+NNLL","b":3,"c":0.9856,"lo":0.9357,"hi":1.0108},
{"p":"BR","s":"NNLO+NNLL","b":4,"c":0.9735,"lo":0.9226,"hi":1.009},
{"p":"BR","s":"NNLO+NNLL","b":5,"c":0.9782,"lo":0.93,"hi":1.009},
{"p":"BR","s":"NNLO+NNLL","b":6,"c":0.9852,"lo":0.932,"hi":1.0097},
{"p":"BR","s":"NNLO+NNLL","b":7,"c":0.9777,"lo":0.923,"hi":1.0068},
{"p":"BR","s":"NNLO+NNLL","b":8,"c":0.9831,"lo":0.941,"hi":1.009},
{"p":"BR","s":"NNLO+NNLL","b":9,"c":0.9895,"lo":0.93,"hi":1.0087},
{"p":"BR","s":"NNLO+NNLL","b":10,"c":0.9803,"lo":0.926,"hi":1.0076},
{"p":"BR","s":"NNLO+NNLL","b":11,"c":0.9792,"lo":0.926,"hi":1.0049},
{"p":"BR","s":"NNLO+NNLL","b":12,"c":0.9867,"lo":0.934,"hi":1.0076},
{"p":"BR","s":"NNLO+NNLL","b":13,"c":0.975,"lo":0.92,"hi":1.0029},
{"p":"BR","s":"NNLO+NNLL","b":14,"c":0.9824,"lo":0.929,"hi":1.0055},
{"p":"BR","s":"NNLO+NNLL","b":15,"c":0.9848,"lo":0.934,"hi":1.0055},
{"p":"BR","s":"NNLO+NNLL","b":16,"c":0.9831,"lo":0.93,"hi":1.003},
{"p":"BR","s":"NNLO+NNLL","b":17,"c":0.9788,"lo":0.928,"hi":1.0033},
{"p":"BR","s":"NNLO+NNLL","b":18,"c":0.9809,"lo":0.928,"hi":1.0036},
{"p":"BR","s":"NNLO+NNLL","b":19,"c":0.9837,"lo":0.937,"hi":1.0033},
{"p":"BR","s":"NNLO+NNLL","b":20,"c":0.982,"lo":0.93,"hi":1.003},
{"p":"BR","s":"NNLO+NNLL","b":21,"c":0.988,"lo":0.925,"hi":1.0043},
{"p":"BR","s":"NNLO+NNLL","b":22,"c":0.9831,"lo":0.93,"hi":1.0015},
{"p":"BR","s":"NNLO+NNLL","b":23,"c":0.976,"lo":0.921,"hi":1.001},
{"p":"BR","s":"NNLO+NNLL","b":24,"c":0.9841,"lo":0.937,"hi":1.002},
{"p":"BR","s":"NNLO+NNLL","b":25,"c":0.9858,"lo":0.93,"hi":1.0026},
{"p":"BR","s":"NNLO+NNLL","b":26,"c":0.9867,"lo":0.928,"hi":1.0033},
{"p":"BR","s":"NNLO+NNLL","b":27,"c":0.9805,"lo":0.932,"hi":1.0},
{"p":"BR","s":"NNLO+NNLL","b":28,"c":0.982,"lo":0.93,"hi":0.9998},
{"p":"BR","s":"NNLO+NNLL","b":29,"c":0.9788,"lo":0.925,"hi":1.0},
{"p":"BR","s":"NNLO+NNLL","b":30,"c":0.9816,"lo":0.924,"hi":0.9995},
{"p":"BR","s":"NNLO+NNLL","b":31,"c":0.981,"lo":0.926,"hi":0.9995},
{"p":"BR","s":"NNLO+NNLL","b":32,"c":0.98,"lo":0.921,"hi":0.999}
]
},
"spacing": 0,
"resolve": {"scale": {"fill": "independent", "stroke": "independent"}, "legend": {"fill": "independent", "stroke": "independent"}},
"hconcat": [
{
"spacing": 27,
"resolve": {"scale": {"fill": "independent", "stroke": "independent"}, "legend": {"fill": "independent", "stroke": "independent"}},
"vconcat": [
{
"width": 499, "height": 190,
"layer": [
{"data": {"name": "d"}, "transform": [{"filter": "datum.p == 'TL'"}, {"lookup": "b", "from": {"data": {"name": "bins"}, "key": "b", "fields": ["x0", "x1"]}}, {"fold": ["x0", "x1"], "as": ["edge", "x"]}],
"mark": {"type": "area", "clip": true, "fillOpacity": 0.6, "strokeWidth": 0},
"encoding": {
"x": {"field": "x", "type": "quantitative", "title": null, "scale": {"type": "log", "domain": [84, 1588], "nice": false}, "axis": {"values": [84, 97, 114, 153, 196, 245, 300, 362, 430, 507, 638, 790, 967, 1248, 1588], "labels": false, "tickCount": 40}},
"y": {"field": "lo", "type": "quantitative", "title": "Ratio to NLO", "scale": {"domain": [0.4, 2.0], "nice": false, "zero": false}, "axis": {"values": [0.4, 0.6, 0.8, 1.0, 1.2, 1.4, 1.6, 1.8, 2.0], "format": ".1f", "tickCount": 40}},
"y2": {"field": "hi"},
"fill": {"field": "s", "type": "nominal", "scale": {"domain": ["LO", "NLO", "NNLO"], "range": ["#00ff00", "#0000ff", "#ff0000"]}, "legend": {"title": null, "symbolType": "M-2.143,0H2.143"}}
}},
{"data": {"name": "d"}, "transform": [{"filter": "datum.p == 'TL'"}, {"lookup": "b", "from": {"data": {"name": "bins"}, "key": "b", "fields": ["x0", "x1"]}}, {"fold": ["x0", "x1"], "as": ["edge", "x"]}],
"mark": {"type": "line", "clip": true, "strokeWidth": 4},
"encoding": {
"x": {"field": "x", "type": "quantitative", "title": null, "axis": {"values": [84, 97, 114, 153, 196, 245, 300, 362, 430, 507, 638, 790, 967, 1248, 1588], "labels": false, "tickCount": 40}},
"y": {"field": "c", "type": "quantitative", "title": "Ratio to NLO", "axis": {"values": [0.4, 0.6, 0.8, 1.0, 1.2, 1.4, 1.6, 1.8, 2.0], "format": ".1f", "tickCount": 40}},
"stroke": {"field": "s", "type": "nominal", "scale": {"domain": ["LO", "NLO", "NNLO"], "range": ["#00ff00", "#0000ff", "#ff0000"]}, "legend": {"title": null, "symbolType": "M-2.143,0H2.143"}},
"order": [{"field": "x", "type": "quantitative"}, {"field": "b", "type": "quantitative"}]
}},
{"data": {"values": [{}]}, "mark": {"type": "text", "align": "right", "baseline": "alphabetic", "dx": -12, "dy": -28, "fontSize": 14, "lineHeight": 17, "color": "#000000"},
"encoding": {"x": {"datum": 1588}, "y": {"datum": 0.4}, "text": {"value": ["R = 0.1", "|y| < 0.5"]}}}
]
},
{
"width": 499, "height": 190,
"layer": [
{"data": {"name": "d"}, "transform": [{"filter": "datum.p == 'ML'"}, {"lookup": "b", "from": {"data": {"name": "bins"}, "key": "b", "fields": ["x0", "x1"]}}, {"fold": ["x0", "x1"], "as": ["edge", "x"]}],
"mark": {"type": "area", "clip": true, "fillOpacity": 0.6, "strokeWidth": 0},
"encoding": {
"x": {"field": "x", "type": "quantitative", "title": null, "scale": {"type": "log", "domain": [84, 1588], "nice": false}, "axis": {"values": [84, 97, 114, 153, 196, 245, 300, 362, 430, 507, 638, 790, 967, 1248, 1588], "labels": false, "tickCount": 40}},
"y": {"field": "lo", "type": "quantitative", "title": "Ratio to NLO+NLL", "scale": {"domain": [0.4, 1.6], "nice": false, "zero": false}, "axis": {"values": [0.4, 0.6, 0.8, 1.0, 1.2, 1.4, 1.6], "format": ".1f", "tickCount": 40}},
"y2": {"field": "hi"},
"fill": {"field": "s", "type": "nominal", "scale": {"domain": ["LO+LL", "NLO+NLL", "NNLO+NNLL"], "range": ["#00ffff", "#ff00ff", "#ffc000"]}, "legend": {"title": null, "symbolType": "M-2.143,0H2.143"}}
}},
{"data": {"name": "d"}, "transform": [{"filter": "datum.p == 'ML'"}, {"lookup": "b", "from": {"data": {"name": "bins"}, "key": "b", "fields": ["x0", "x1"]}}, {"fold": ["x0", "x1"], "as": ["edge", "x"]}],
"mark": {"type": "line", "clip": true, "strokeWidth": 4},
"encoding": {
"x": {"field": "x", "type": "quantitative", "title": null, "axis": {"values": [84, 97, 114, 153, 196, 245, 300, 362, 430, 507, 638, 790, 967, 1248, 1588], "labels": false, "tickCount": 40}},
"y": {"field": "c", "type": "quantitative", "title": "Ratio to NLO+NLL", "axis": {"values": [0.4, 0.6, 0.8, 1.0, 1.2, 1.4, 1.6], "format": ".1f", "tickCount": 40}},
"stroke": {"field": "s", "type": "nominal", "scale": {"domain": ["LO+LL", "NLO+NLL", "NNLO+NNLL"], "range": ["#00ffff", "#ff00ff", "#ffc000"]}, "legend": {"title": null, "symbolType": "M-2.143,0H2.143"}},
"order": [{"field": "x", "type": "quantitative"}, {"field": "b", "type": "quantitative"}]
}},
{"data": {"values": [{}]}, "mark": {"type": "text", "align": "right", "baseline": "alphabetic", "dx": -12, "dy": -28, "fontSize": 14, "lineHeight": 17, "color": "#000000"},
"encoding": {"x": {"datum": 1588}, "y": {"datum": 0.4}, "text": {"value": ["R = 0.1", "|y| < 0.5"]}}}
]
},
{
"width": 499, "height": 190,
"layer": [
{"data": {"name": "d"}, "transform": [{"filter": "datum.p == 'BL'"}, {"lookup": "b", "from": {"data": {"name": "bins"}, "key": "b", "fields": ["x0", "x1"]}}, {"fold": ["x0", "x1"], "as": ["edge", "x"]}],
"mark": {"type": "area", "clip": true, "fillOpacity": 0.6, "strokeWidth": 0},
"encoding": {
"x": {"field": "x", "type": "quantitative", "title": "pT(jet) [GeV]", "scale": {"type": "log", "domain": [84, 1588], "nice": false}, "axis": {"values": [84, 97, 114, 153, 196, 245, 300, 362, 430, 507, 638, 790, 967, 1248, 1588], "format": "d", "tickCount": 40}},
"y": {"field": "lo", "type": "quantitative", "title": "Ratio to NNLO", "scale": {"domain": [0.6, 1.3], "nice": false, "zero": false}, "axis": {"values": [0.6, 0.7, 0.8, 0.9, 1.0, 1.1, 1.2, 1.3], "format": ".1f", "tickCount": 40}},
"y2": {"field": "hi"},
"fill": {"field": "s", "type": "nominal", "scale": {"domain": ["NNLO", "NNLO+NNLL"], "range": ["#ff0000", "#ffc000"]}, "legend": {"title": null, "symbolType": "M-2.143,0H2.143"}}
}},
{"data": {"name": "d"}, "transform": [{"filter": "datum.p == 'BL'"}, {"lookup": "b", "from": {"data": {"name": "bins"}, "key": "b", "fields": ["x0", "x1"]}}, {"fold": ["x0", "x1"], "as": ["edge", "x"]}],
"mark": {"type": "line", "clip": true, "strokeWidth": 4},
"encoding": {
"x": {"field": "x", "type": "quantitative", "title": "pT(jet) [GeV]", "axis": {"values": [84, 97, 114, 153, 196, 245, 300, 362, 430, 507, 638, 790, 967, 1248, 1588], "format": "d", "tickCount": 40}},
"y": {"field": "c", "type": "quantitative", "title": "Ratio to NNLO", "axis": {"values": [0.6, 0.7, 0.8, 0.9, 1.0, 1.1, 1.2, 1.3], "format": ".1f", "tickCount": 40}},
"stroke": {"field": "s", "type": "nominal", "scale": {"domain": ["NNLO", "NNLO+NNLL"], "range": ["#ff0000", "#ffc000"]}, "legend": {"title": null, "symbolType": "M-2.143,0H2.143"}},
"order": [{"field": "x", "type": "quantitative"}, {"field": "b", "type": "quantitative"}]
}},
{"data": {"values": [{}]}, "mark": {"type": "text", "align": "right", "baseline": "alphabetic", "dx": -12, "dy": -28, "fontSize": 14, "lineHeight": 17, "color": "#000000"},
"encoding": {"x": {"datum": 1588}, "y": {"datum": 0.6}, "text": {"value": ["R = 0.1", "|y| < 0.5"]}}}
]
}
]
},
{
"spacing": 30,
"resolve": {"scale": {"fill": "independent", "stroke": "independent"}, "legend": {"fill": "independent", "stroke": "independent"}},
"vconcat": [
{
"width": 492, "height": 188,
"layer": [
{"data": {"name": "d"}, "transform": [{"filter": "datum.p == 'TR'"}, {"lookup": "b", "from": {"data": {"name": "bins"}, "key": "b", "fields": ["x0", "x1"]}}, {"fold": ["x0", "x1"], "as": ["edge", "x"]}],
"mark": {"type": "area", "clip": true, "fillOpacity": 0.6, "strokeWidth": 0},
"encoding": {
"x": {"field": "x", "type": "quantitative", "title": null, "scale": {"type": "log", "domain": [84, 1588], "nice": false}, "axis": {"values": [84, 97, 114, 153, 196, 245, 300, 362, 430, 507, 638, 790, 967, 1248, 1588], "labels": false, "tickCount": 40}},
"y": {"field": "lo", "type": "quantitative", "title": "Ratio to NLO", "scale": {"domain": [0.6, 1.3], "nice": false, "zero": false}, "axis": {"values": [0.6, 0.7, 0.8, 0.9, 1.0, 1.1, 1.2, 1.3], "format": ".1f", "tickCount": 40}},
"y2": {"field": "hi"},
"fill": {"field": "s", "type": "nominal", "scale": {"domain": ["LO", "NLO", "NNLO"], "range": ["#00ff00", "#0000ff", "#ff0000"]}, "legend": {"title": null, "symbolType": "M-2.143,0H2.143"}}
}},
{"data": {"name": "d"}, "transform": [{"filter": "datum.p == 'TR'"}, {"lookup": "b", "from": {"data": {"name": "bins"}, "key": "b", "fields": ["x0", "x1"]}}, {"fold": ["x0", "x1"], "as": ["edge", "x"]}],
"mark": {"type": "line", "clip": true, "strokeWidth": 4},
"encoding": {
"x": {"field": "x", "type": "quantitative", "title": null, "axis": {"values": [84, 97, 114, 153, 196, 245, 300, 362, 430, 507, 638, 790, 967, 1248, 1588], "labels": false, "tickCount": 40}},
"y": {"field": "c", "type": "quantitative", "title": "Ratio to NLO", "axis": {"values": [0.6, 0.7, 0.8, 0.9, 1.0, 1.1, 1.2, 1.3], "format": ".1f", "tickCount": 40}},
"stroke": {"field": "s", "type": "nominal", "scale": {"domain": ["LO", "NLO", "NNLO"], "range": ["#00ff00", "#0000ff", "#ff0000"]}, "legend": {"title": null, "symbolType": "M-2.143,0H2.143"}},
"order": [{"field": "x", "type": "quantitative"}, {"field": "b", "type": "quantitative"}]
}},
{"data": {"values": [{}]}, "mark": {"type": "text", "align": "right", "baseline": "alphabetic", "dx": -12, "dy": -28, "fontSize": 14, "lineHeight": 17, "color": "#000000"},
"encoding": {"x": {"datum": 1588}, "y": {"datum": 0.6}, "text": {"value": ["R = 0.4", "|y| < 0.5"]}}}
]
},
{
"width": 492, "height": 188,
"layer": [
{"data": {"name": "d"}, "transform": [{"filter": "datum.p == 'MR'"}, {"lookup": "b", "from": {"data": {"name": "bins"}, "key": "b", "fields": ["x0", "x1"]}}, {"fold": ["x0", "x1"], "as": ["edge", "x"]}],
"mark": {"type": "area", "clip": true, "fillOpacity": 0.6, "strokeWidth": 0},
"encoding": {
"x": {"field": "x", "type": "quantitative", "title": null, "scale": {"type": "log", "domain": [84, 1588], "nice": false}, "axis": {"values": [84, 97, 114, 153, 196, 245, 300, 362, 430, 507, 638, 790, 967, 1248, 1588], "labels": false, "tickCount": 40}},
"y": {"field": "lo", "type": "quantitative", "title": "Ratio to NLO+NLL", "scale": {"domain": [0.5, 1.3], "nice": false, "zero": false}, "axis": {"values": [0.5, 0.6, 0.7, 0.8, 0.9, 1.0, 1.1, 1.2, 1.3], "format": ".1f", "tickCount": 40}},
"y2": {"field": "hi"},
"fill": {"field": "s", "type": "nominal", "scale": {"domain": ["LO+LL", "NLO+NLL", "NNLO+NNLL"], "range": ["#00ffff", "#ff00ff", "#ffc000"]}, "legend": {"title": null, "symbolType": "M-2.143,0H2.143"}}
}},
{"data": {"name": "d"}, "transform": [{"filter": "datum.p == 'MR'"}, {"lookup": "b", "from": {"data": {"name": "bins"}, "key": "b", "fields": ["x0", "x1"]}}, {"fold": ["x0", "x1"], "as": ["edge", "x"]}],
"mark": {"type": "line", "clip": true, "strokeWidth": 4},
"encoding": {
"x": {"field": "x", "type": "quantitative", "title": null, "axis": {"values": [84, 97, 114, 153, 196, 245, 300, 362, 430, 507, 638, 790, 967, 1248, 1588], "labels": false, "tickCount": 40}},
"y": {"field": "c", "type": "quantitative", "title": "Ratio to NLO+NLL", "axis": {"values": [0.5, 0.6, 0.7, 0.8, 0.9, 1.0, 1.1, 1.2, 1.3], "format": ".1f", "tickCount": 40}},
"stroke": {"field": "s", "type": "nominal", "scale": {"domain": ["LO+LL", "NLO+NLL", "NNLO+NNLL"], "range": ["#00ffff", "#ff00ff", "#ffc000"]}, "legend": {"title": null, "symbolType": "M-2.143,0H2.143"}},
"order": [{"field": "x", "type": "quantitative"}, {"field": "b", "type": "quantitative"}]
}},
{"data": {"values": [{}]}, "mark": {"type": "text", "align": "right", "baseline": "alphabetic", "dx": -12, "dy": -28, "fontSize": 14, "lineHeight": 17, "color": "#000000"},
"encoding": {"x": {"datum": 1588}, "y": {"datum": 0.5}, "text": {"value": ["R = 0.4", "|y| < 0.5"]}}}
]
},
{
"width": 492, "height": 188,
"layer": [
{"data": {"name": "d"}, "transform": [{"filter": "datum.p == 'BR'"}, {"lookup": "b", "from": {"data": {"name": "bins"}, "key": "b", "fields": ["x0", "x1"]}}, {"fold": ["x0", "x1"], "as": ["edge", "x"]}],
"mark": {"type": "area", "clip": true, "fillOpacity": 0.6, "strokeWidth": 0},
"encoding": {
"x": {"field": "x", "type": "quantitative", "title": "pT(jet) [GeV]", "scale": {"type": "log", "domain": [84, 1588], "nice": false}, "axis": {"values": [84, 97, 114, 153, 196, 245, 300, 362, 430, 507, 638, 790, 967, 1248, 1588], "format": "d", "tickCount": 40}},
"y": {"field": "lo", "type": "quantitative", "title": "Ratio to NNLO", "scale": {"domain": [0.92, 1.04], "nice": false, "zero": false}, "axis": {"values": [0.92, 0.94, 0.96, 0.98, 1.0, 1.02, 1.04], "format": ".2f", "tickCount": 40}},
"y2": {"field": "hi"},
"fill": {"field": "s", "type": "nominal", "scale": {"domain": ["NNLO", "NNLO+NNLL"], "range": ["#ff0000", "#ffc000"]}, "legend": {"title": null, "symbolType": "M-2.143,0H2.143"}}
}},
{"data": {"name": "d"}, "transform": [{"filter": "datum.p == 'BR'"}, {"lookup": "b", "from": {"data": {"name": "bins"}, "key": "b", "fields": ["x0", "x1"]}}, {"fold": ["x0", "x1"], "as": ["edge", "x"]}],
"mark": {"type": "line", "clip": true, "strokeWidth": 4},
"encoding": {
"x": {"field": "x", "type": "quantitative", "title": "pT(jet) [GeV]", "axis": {"values": [84, 97, 114, 153, 196, 245, 300, 362, 430, 507, 638, 790, 967, 1248, 1588], "format": "d", "tickCount": 40}},
"y": {"field": "c", "type": "quantitative", "title": "Ratio to NNLO", "axis": {"values": [0.92, 0.94, 0.96, 0.98, 1.0, 1.02, 1.04], "format": ".2f", "tickCount": 40}},
"stroke": {"field": "s", "type": "nominal", "scale": {"domain": ["NNLO", "NNLO+NNLL"], "range": ["#ff0000", "#ffc000"]}, "legend": {"title": null, "symbolType": "M-2.143,0H2.143"}},
"order": [{"field": "x", "type": "quantitative"}, {"field": "b", "type": "quantitative"}]
}},
{"data": {"values": [{}]}, "mark": {"type": "text", "align": "right", "baseline": "alphabetic", "dx": -12, "dy": -28, "fontSize": 14, "lineHeight": 17, "color": "#000000"},
"encoding": {"x": {"datum": 1588}, "y": {"datum": 0.92}, "text": {"value": ["R = 0.4", "|y| < 0.5"]}}}
]
}
]
}
],
"config": {
"font": "DejaVu Sans",
"view": {"stroke": "#000000", "strokeWidth": 1},
"axis": {"domainColor": "#000000", "tickColor": "#000000", "tickSize": 4, "labelFontSize": 12, "labelColor": "#000000", "titleFontSize": 20, "titleFontWeight": "normal", "titleColor": "#000000", "gridColor": "#b0b0b0", "gridWidth": 0.8, "gridOpacity": 1, "labelPadding": 3, "titlePadding": 6, "zindex": 1, "labelFlush": false, "labelOverlap": false},
"legend": {"orient": "top-right", "direction": "horizontal", "gridAlign": "none", "symbolSize": 196, "symbolStrokeWidth": 4, "symbolOffset": 6, "labelFontSize": 13, "labelColor": "#000000", "labelOffset": 18, "columnPadding": 9, "fillColor": "rgba(255,255,255,0.8)", "strokeColor": "#cccccc", "padding": 3, "cornerRadius": 3, "offset": 6, "zindex": 2, "labelLimit": 300}
}
}
